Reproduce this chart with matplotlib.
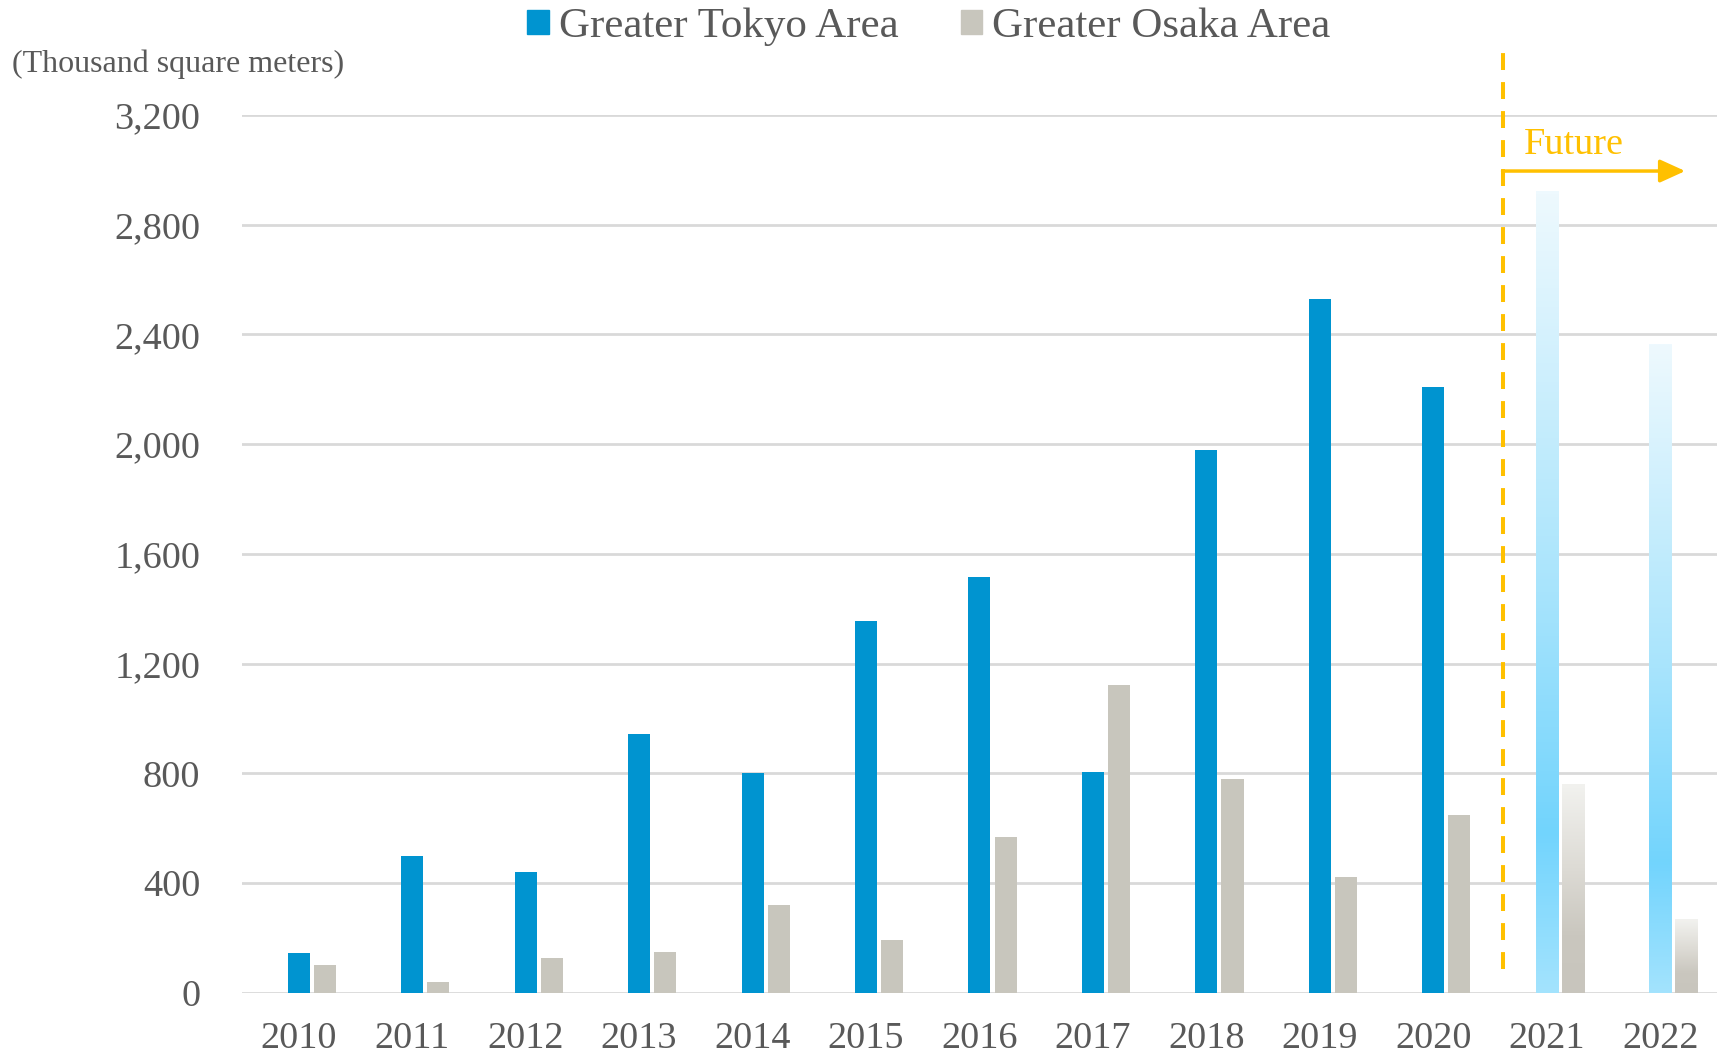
import numpy as np
import matplotlib
matplotlib.use("Agg")
import matplotlib.pyplot as plt
from matplotlib.colors import LinearSegmentedColormap
from matplotlib.patches import Patch

plt.rcParams['font.family'] = ['Liberation Serif', 'DejaVu Serif']

years = ['2010', '2011', '2012', '2013', '2014', '2015', '2016',
         '2017', '2018', '2019', '2020', '2021', '2022']
tokyo = [145, 500, 440, 945, 800, 1355, 1515, 805, 1978, 2530, 2210, 2922, 2365]
osaka = [100, 40, 125, 147, 320, 192, 567, 1123, 780, 423, 647, 761, 269]
future_years = ['2021', '2022']
yticks = [0, 400, 800, 1200, 1600, 2000, 2400, 2800, 3200]

TOKYO_C = '#0094d0'
OSAKA_C = '#c8c6bd'
GOLD = '#ffc000'
TEXT_C = '#595959'
GRID_C = '#d9d9d9'

fig = plt.figure(figsize=(17.17, 10.53), dpi=100)
ax = fig.add_axes([0.1409, 0.0573, 0.8591, 0.8334])

x = np.arange(len(years))
width = 0.194
offset = 0.23
is_future = np.array([y in future_years for y in years])

tokyo_bars = ax.bar(x, tokyo, width, color=TOKYO_C, zorder=3)
osaka_bars = ax.bar(x + offset, osaka, width, color=OSAKA_C, zorder=3)

# Forecast years: vertical gradient fills clipped to the bar shapes
tokyo_grad = LinearSegmentedColormap.from_list(
    'tk', [(0.0, '#a3e3fd'), (0.2, '#72d4fd'), (0.5, '#a8e4fc'), (1.0, '#eef9fe')])
osaka_grad = LinearSegmentedColormap.from_list(
    'os', [(0.0, '#c8c5bd'), (0.28, '#cac7bf'), (0.6, '#dddbd5'), (1.0, '#f2f2ef')])
grad = np.linspace(0, 1, 256).reshape(-1, 1)
for bars, cmap in ((tokyo_bars, tokyo_grad), (osaka_bars, osaka_grad)):
    for i, b in enumerate(bars):
        if not is_future[i]:
            continue
        b.set_facecolor('none')
        x0, w, h = b.get_x(), b.get_width(), b.get_height()
        im = ax.imshow(grad, cmap=cmap, origin='lower', aspect='auto',
                       extent=(x0, x0 + w, 0, h), zorder=3)
        im.set_clip_path(b)

ax.set_xlim(-0.5, len(years) - 0.5)
ax.set_ylim(0, 3200)
ax.set_yticks(yticks)
ax.set_yticklabels([f'{v:,}' for v in yticks])
ax.set_xticks(x)
ax.set_xticklabels(years)
ax.tick_params(axis='both', length=0, labelsize=27.5, colors=TEXT_C)
ax.tick_params(axis='y', pad=30)
ax.tick_params(axis='x', pad=21)
ax.yaxis.grid(True, color=GRID_C, linewidth=2, zorder=0)
ax.set_axisbelow(True)
for s in ax.spines.values():
    s.set_visible(False)

# Boundary between actual and forecast years
xb = 10.61
ax.plot([xb, xb], [85, 3440], color=GOLD, linewidth=2.9,
        linestyle=(0, (4.2, 3.0)), clip_on=False, zorder=4)
ax.annotate('', xy=(12.22, 2996), xytext=(xb, 2996),
            arrowprops=dict(arrowstyle='-|>,head_length=0.55,head_width=0.25',
                            color=GOLD, lw=2.5, mutation_scale=28,
                            shrinkA=0, shrinkB=0),
            annotation_clip=False, zorder=4)
ax.text(10.80, 3058, 'Future', color=GOLD, fontsize=27.5,
        ha='left', va='baseline')

fig.text(12 / 1717, 1 - 64 / 1053, '(Thousand square meters)',
         fontsize=23, color=TEXT_C, ha='left', va='center')

handles = [Patch(color=TOKYO_C, label='Greater Tokyo Area'),
           Patch(color=OSAKA_C, label='Greater Osaka Area')]
fig.legend(handles=handles, loc='center', bbox_to_anchor=(0.541, 1 - 27 / 1053),
           ncol=2, frameon=False, fontsize=31, labelcolor=TEXT_C,
           handlelength=0.5, handleheight=0.5, handletextpad=0.23,
           columnspacing=1.45, borderpad=0)

fig.savefig('out.png', dpi=100)
